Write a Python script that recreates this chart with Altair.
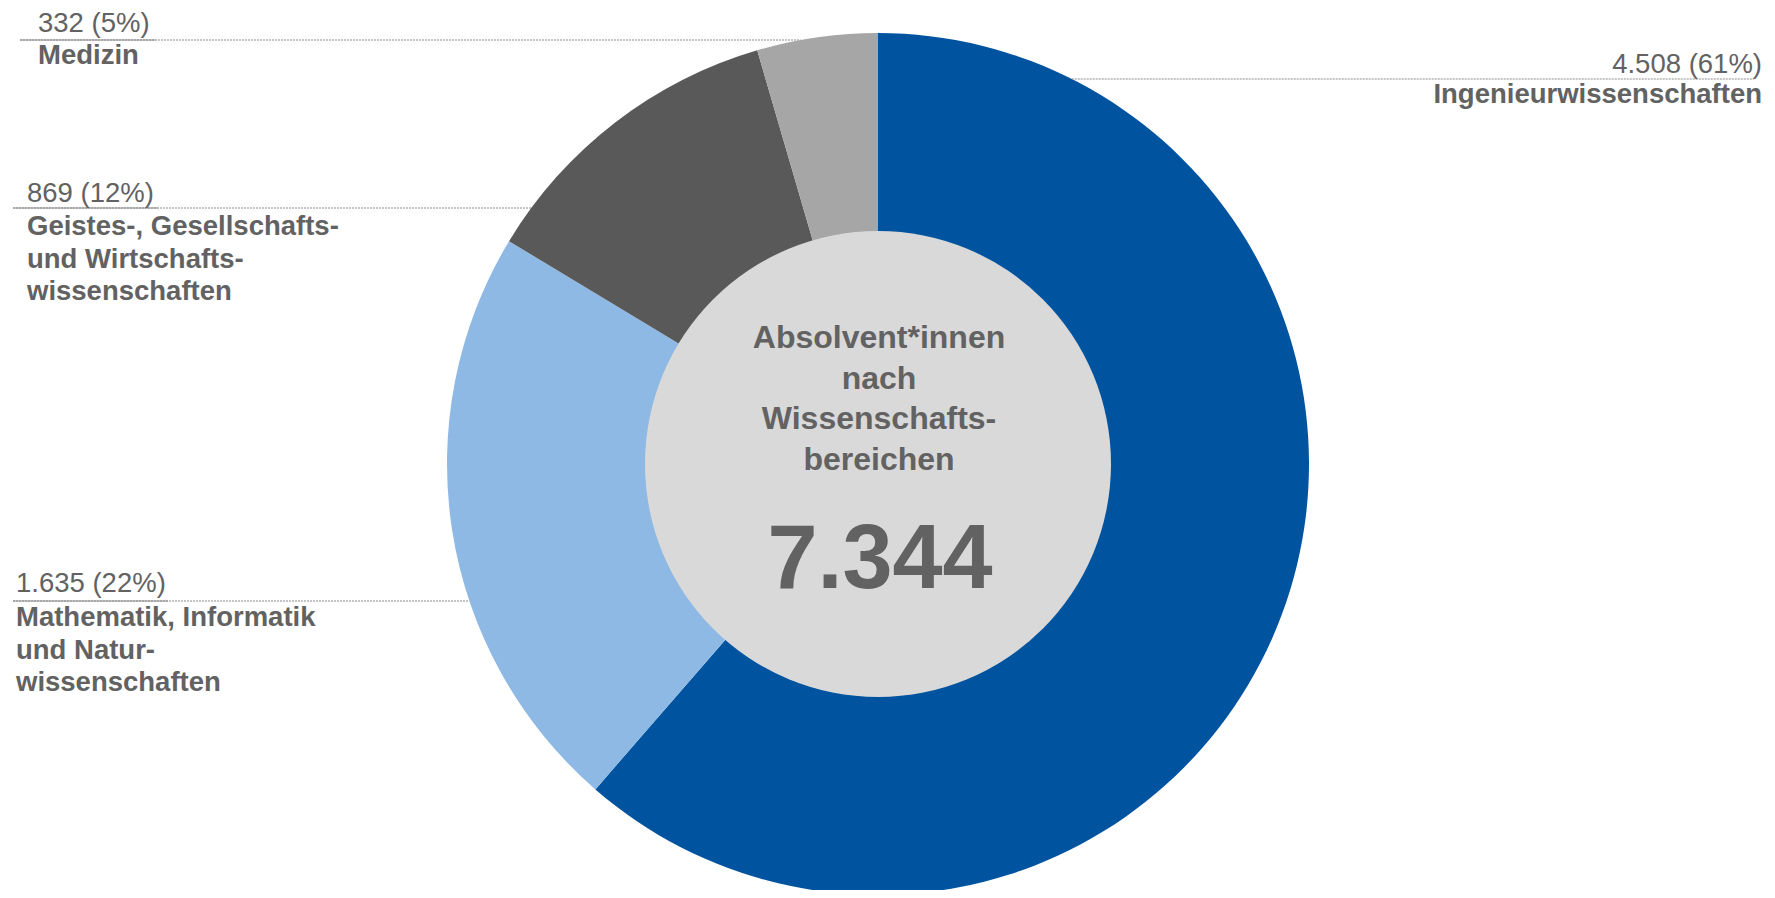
import math
import altair as alt
import pandas as pd

# ---------------- data ----------------
categories = [
    "Ingenieurwissenschaften",
    "Mathematik, Informatik und Naturwissenschaften",
    "Geistes-, Gesellschafts- und Wirtschaftswissenschaften",
    "Medizin",
]
label_lines = [
    "Ingenieurwissenschaften",
    "Mathematik, Informatik\nund Natur-\nwissenschaften",
    "Geistes-, Gesellschafts-\nund Wirtschafts-\nwissenschaften",
    "Medizin",
]
values = [4508, 1635, 869, 332]
colors = ["#00539F", "#8EB9E5", "#595959", "#A6A6A6"]
center_title = ["Absolvent*innen", "nach", "Wissenschafts-", "bereichen"]

# ---------------- layout ----------------
W, H = 1759, 882
CX, CY = 870, 456
R_OUT, R_IN = 431, 233
TXT = "#626262"
FONT = "Liberation Sans"
FS = 27.5

# x, align, value baseline, name baseline, leader y, leader outer x, solid length
label_layout = [
    dict(x=1754, align="right", yv=65, yn=95, ly=71, lx=1746, solid=0),
    dict(x=8, align="left", yv=584, yn=618, ly=593, lx=5, solid=155),
    dict(x=19, align="left", yv=194, yn=227, ly=200, lx=5, solid=145),
    dict(x=30, align="left", yv=24, yn=56, ly=32, lx=12, solid=135),
]


def fmt_de(n):
    return f"{n:,}".replace(",", ".")


total = sum(values)

arc_df = pd.DataFrame({
    "name": categories,
    "value": values,
    "idx": list(range(len(values))),
})

lab_rows = []
dot_rows = []
solid_rows = []
for cat, lines, v, lay in zip(categories, label_lines, values, label_layout):
    pct = round(v / total * 100)
    lab_rows.append(dict(
        name=cat,
        vtext=f"{fmt_de(v)} ({pct}%)",
        ntext=lines,
        x=lay["x"],
        yv=lay["yv"],
        yn=lay["yn"],
        align=lay["align"],
    ))
    dy = lay["ly"] - CY
    dx = math.sqrt(max(R_OUT ** 2 - dy ** 2, 0))
    if lay["align"] == "right":
        x1, x2 = CX + dx, lay["lx"]
    else:
        x1, x2 = lay["lx"], CX - dx
    dot_rows.append(dict(x1=x1, x2=x2, y=lay["ly"]))
    if lay["solid"]:
        solid_rows.append(dict(x1=lay["lx"], x2=lay["lx"] + lay["solid"], y=lay["ly"]))

lab_df = pd.DataFrame(lab_rows)
dot_df = pd.DataFrame(dot_rows)
solid_df = pd.DataFrame(solid_rows)


def px(field):
    return alt.X(field, scale=None, axis=None)


def py(field):
    return alt.Y(field, scale=None, axis=None)


# ---------------- chart ----------------
ring = alt.Chart(arc_df).mark_arc(
    outerRadius=R_OUT, innerRadius=R_IN - 2
).encode(
    theta=alt.Theta("value:Q", stack=True),
    order=alt.Order("idx:Q"),
    color=alt.Color("name:N", scale=alt.Scale(domain=categories, range=colors), legend=None),
    x=alt.value(CX),
    y=alt.value(CY),
)

hole = alt.Chart(pd.DataFrame({"t": [fmt_de(total)]})).mark_circle(
    size=(2 * R_IN) ** 2, color="#D9D9D9", opacity=1
).encode(x=alt.value(CX), y=alt.value(CY))

title_txt = alt.Chart(pd.DataFrame({"t": ["\n".join(center_title)]})).mark_text(
    font=FONT, fontSize=32, fontWeight="bold", color=TXT, align="center",
    baseline="alphabetic", lineBreak="\n", lineHeight=40.5
).encode(x=alt.value(CX + 1), y=alt.value(340), text="t:N")

total_txt = alt.Chart(pd.DataFrame({"t": [fmt_de(total)]})).mark_text(
    font=FONT, fontSize=90, fontWeight="bold", color=TXT, align="center",
    baseline="alphabetic"
).encode(x=alt.value(CX + 2), y=alt.value(580), text="t:N")

dots = alt.Chart(dot_df).mark_rule(
    color="#8C8C8C", strokeWidth=1.2, strokeDash=[2, 1]
).encode(x=px("x1:Q"), x2="x2:Q", y=py("y:Q"))

solids = alt.Chart(solid_df).mark_rule(
    color="#8C8C8C", strokeWidth=1.2
).encode(x=px("x1:Q"), x2="x2:Q", y=py("y:Q"))

layers = []
for al in ["left", "right"]:
    sub = lab_df[lab_df["align"] == al]
    vt = alt.Chart(sub).mark_text(
        font=FONT, fontSize=FS, color=TXT, align=al, baseline="alphabetic"
    ).encode(x=px("x:Q"), y=py("yv:Q"), text="vtext:N")
    nt = alt.Chart(sub).mark_text(
        font=FONT, fontSize=FS, fontWeight="bold", color=TXT, align=al,
        baseline="alphabetic", lineBreak="\n", lineHeight=32.5
    ).encode(x=px("x:Q"), y=py("yn:Q"), text="ntext:N")
    layers += [vt, nt]

chart = alt.layer(ring, hole, dots, solids, title_txt, total_txt, *layers).properties(
    width=W, height=H, padding=0, autosize=alt.AutoSizeParams(type="none")
).configure_view(strokeWidth=0, stroke=None, fill=None)

chart.save("out.html", embed_options={"renderer": "svg", "actions": False})
